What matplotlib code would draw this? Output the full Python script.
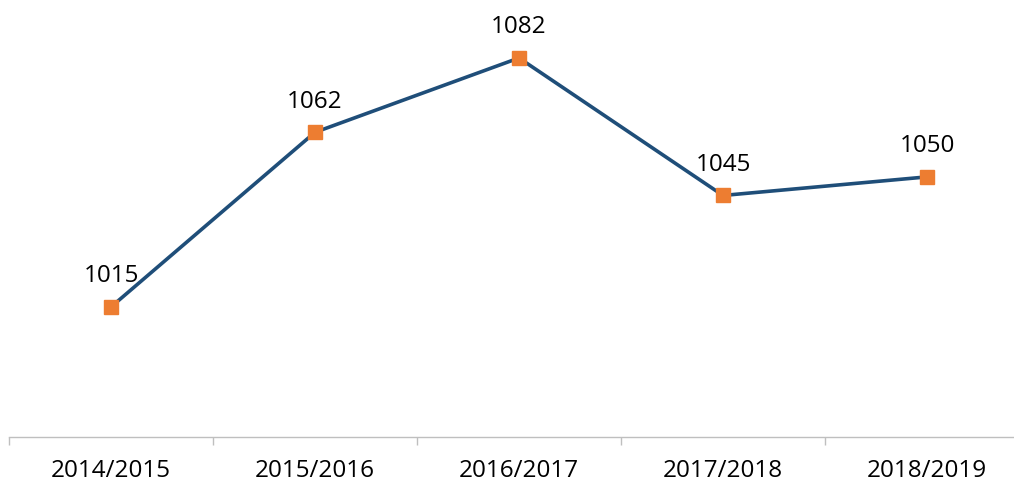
import matplotlib
matplotlib.use("Agg")
import matplotlib.pyplot as plt
import numpy as np

categories = ["2014/2015", "2015/2016", "2016/2017", "2017/2018", "2018/2019"]
values = [1015, 1062, 1082, 1045, 1050]

plt.rcParams['font.family'] = ['Open Sans', 'DejaVu Sans']

W, H = 1014, 483
fig = plt.figure(figsize=(W / 100, H / 100), dpi=100)
left = 9 / W
width = 1020 / W
bottom = (H - 437) / H
height = 437 / H
ax = fig.add_axes([left, bottom, width, height])

x = np.arange(len(categories))
ax.plot(x, values, color="#1F4E79", linewidth=2.6, marker="s", markersize=10,
        markerfacecolor="#ED7D31", markeredgecolor="#ED7D31", zorder=3)

for xi, v in zip(x, values):
    ax.annotate(str(v), (xi, v), xytext=(0, 22), textcoords="offset points",
                ha="center", va="center", fontsize=17.5, color="black")

ax.set_xlim(-0.5, len(categories) - 0.5)
ax.set_ylim(980, 980 + 437 / 3.716)

for s in ["top", "right", "left"]:
    ax.spines[s].set_visible(False)
ax.spines["bottom"].set_color("#BFBFBF")
ax.spines["bottom"].set_linewidth(1.0)
ax.set_yticks([])

ax.set_xticks(x)
ax.set_xticklabels(categories, fontsize=17.5)
ax.tick_params(axis="x", which="major", length=0, pad=16)
ax.set_xticks(np.arange(-0.5, len(categories), 1.0), minor=True)
ax.tick_params(axis="x", which="minor", length=6, width=1.0, color="#BFBFBF", direction="out")

fig.savefig("out.png", dpi=100)
